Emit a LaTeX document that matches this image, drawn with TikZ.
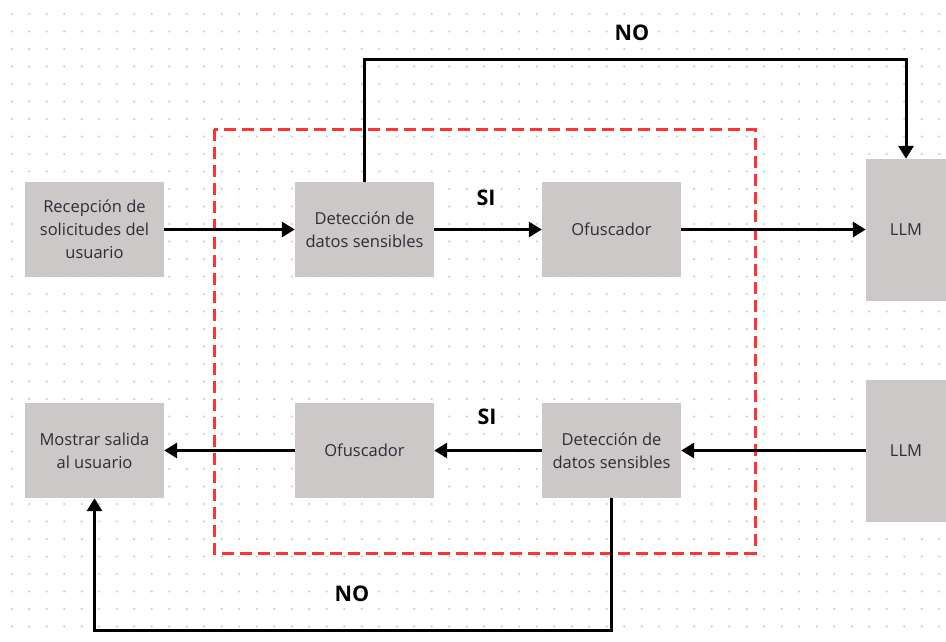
\documentclass[tikz,border=0pt]{standalone}
\usepackage{fontspec}
\setmainfont{Open Sans}
\usetikzlibrary{arrows.meta,calc}
\definecolor{boxgray}{RGB}{204,200,200}
\definecolor{dotgray}{RGB}{196,200,214}
\definecolor{txtgray}{RGB}{45,45,55}
\definecolor{dashred}{RGB}{255,51,51}
\begin{document}
\begin{tikzpicture}[x=1pt,y=-1pt,
  stepbox/.style={fill=boxgray,draw=none,minimum width=139pt,minimum height=95pt,inner sep=0pt,
    align=center,font=\fontsize{16.5}{23}\selectfont,text=txtgray},
  llmbox/.style={stepbox,minimum width=80pt,minimum height=142pt},
  conn/.style={line width=3pt,-{Triangle[length=13pt,width=15pt]}},
  lbl/.style={font=\fontsize{21.5}{24}\selectfont\bfseries,text=black,inner sep=0pt}]
\useasboundingbox (0,0) rectangle (946,642);
\fill[white] (0,0) rectangle (946,642);
\foreach \i in {0,...,53}{\foreach \j in {0,...,36}{
  \fill[dotgray] ({11.7+17.5*\i},{14+17.5*\j}) circle (1.15pt);}}
% red dashed frame
\draw[dashred,line width=3pt,dash pattern=on 12pt off 6pt] (214,129) rectangle (755,553);
% nodes
\node[stepbox] (rec) at (94.5,229.5) {Recepción de\\solicitudes del\\usuario};
\node[stepbox] (det1) at (364.5,229.5) {Detección de\\datos sensibles};
\node[stepbox] (ofu1) at (611.5,229.5) {Ofuscador};
\node[llmbox] (llm1) at (906,230) {LLM};
\node[llmbox] (llm2) at (906,450.5) {LLM};
\node[stepbox] (det2) at (611.5,450.5) {Detección de\\datos sensibles};
\node[stepbox] (ofu2) at (364.5,450.5) {Ofuscador};
\node[stepbox] (mos) at (94.5,450.5) {Mostrar salida\\al usuario};
\coordinate (ntop) at (906,60);
\coordinate (nbot) at (94.5,630);
% connectors
\draw[conn] (rec.east) -- (det1.west);
\draw[conn] (det1.east) -- (ofu1.west);
\draw[conn] (ofu1.east) -- (ofu1.east -| llm1.west);
\draw[conn] (det1.north) |- (ntop) -- (llm1.north);
\draw[conn] (llm2.west |- det2.east) -- (det2.east);
\draw[conn] (det2.west) -- (ofu2.east);
\draw[conn] (ofu2.west) -- (mos.east);
\draw[conn] (det2.south) |- (nbot) -- (mos.south);
% labels
\node[lbl] (si1) at (486,198) {SI};
\node[lbl] (si2) at (487,417) {SI};
\node[lbl] (no1) at (632,33) {NO};
\node[lbl] (no2) at (352,594) {NO};
\end{tikzpicture}
\end{document}
